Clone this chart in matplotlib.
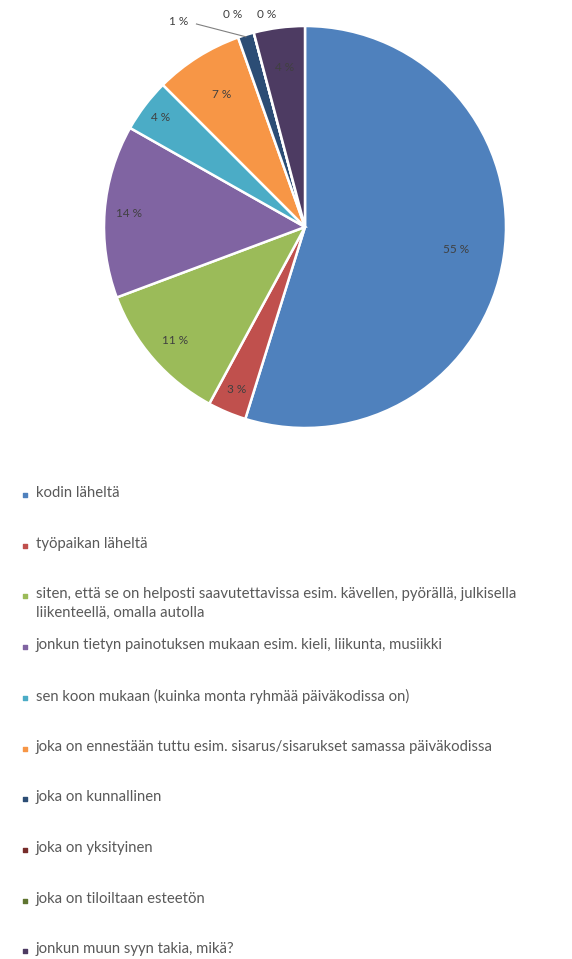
import numpy as np
import matplotlib
matplotlib.use('Agg')
import matplotlib.pyplot as plt

plt.rcParams['font.family'] = ['Lato', 'DejaVu Sans']

labels = [
    'kodin läheltä',
    'työpaikan läheltä',
    'siten, että se on helposti saavutettavissa esim. kävellen, pyörällä, julkisella\nliikenteellä, omalla autolla',
    'jonkun tietyn painotuksen mukaan esim. kieli, liikunta, musiikki',
    'sen koon mukaan (kuinka monta ryhmää päiväkodissa on)',
    'joka on ennestään tuttu esim. sisarus/sisarukset samassa päiväkodissa',
    'joka on kunnallinen',
    'joka on yksityinen',
    'joka on tiloiltaan esteetön',
    'jonkun muun syyn takia, mikä?',
]
shares = [54.8, 3.1, 11.4, 13.9, 4.3, 7.1, 1.3, 0.0, 0.0, 4.1]
colors = ['#4F81BD', '#C0504D', '#9BBB59', '#8064A2', '#4BACC6',
          '#F79646', '#2C4D75', '#772C2A', '#5F7530', '#4D3B62']

W, H = 572, 959
fig = plt.figure(figsize=(W / 100, H / 100), dpi=100)

# pie: centre (305, 227) px, radius 201 px
cx, cy, R = 305, 227, 201
ax = fig.add_axes([(cx - R) / W, (H - cy - R) / H, 2 * R / W, 2 * R / H])
wedges, _ = ax.pie(shares, colors=colors, startangle=90, counterclock=False,
                   radius=1, wedgeprops=dict(edgecolor='white', linewidth=1.8))
ax.set_xlim(-1, 1)
ax.set_ylim(-1, 1)
ax.set_aspect('equal')
ax.axis('off')

total = sum(shares)
dist = [0.76, 0.88, 0.86, 0.88, 0.9, 0.78, None, None, None, 0.8]
outside = {6: (-0.63, 1.02), 7: (-0.36, 1.055), 8: (-0.19, 1.055)}
for i, w in enumerate(wedges):
    txt = f'{round(shares[i] / total * 100)} %'
    mid = np.deg2rad((w.theta1 + w.theta2) / 2)
    if i in outside:
        tx, ty = outside[i]
        ax.text(tx, ty, txt, ha='center', va='center', fontsize=8.5, color='#404040')
        if i == 6:
            ax.plot([tx + 0.09, np.cos(mid)], [ty - 0.01, np.sin(mid) * 0.99],
                    color='#808080', lw=0.8, clip_on=False)
    else:
        ax.text(dist[i] * np.cos(mid), dist[i] * np.sin(mid), txt,
                ha='center', va='center', fontsize=8.5, color='#404040')

# legend, Excel-like fixed slots
lg = fig.add_axes([0, 0, 1, 1])
lg.set_xlim(0, W)
lg.set_ylim(H, 0)
lg.axis('off')
y0, step = 495, 50.7
for i, lab in enumerate(labels):
    y = y0 + i * step
    lg.scatter([25], [y], marker='s', s=10, color=colors[i])
    lg.text(36, y - 9, lab, ha='left', va='top', fontsize=10.7,
            color='#595959', linespacing=1.45)

fig.savefig('out.png', dpi=100, facecolor='white')
